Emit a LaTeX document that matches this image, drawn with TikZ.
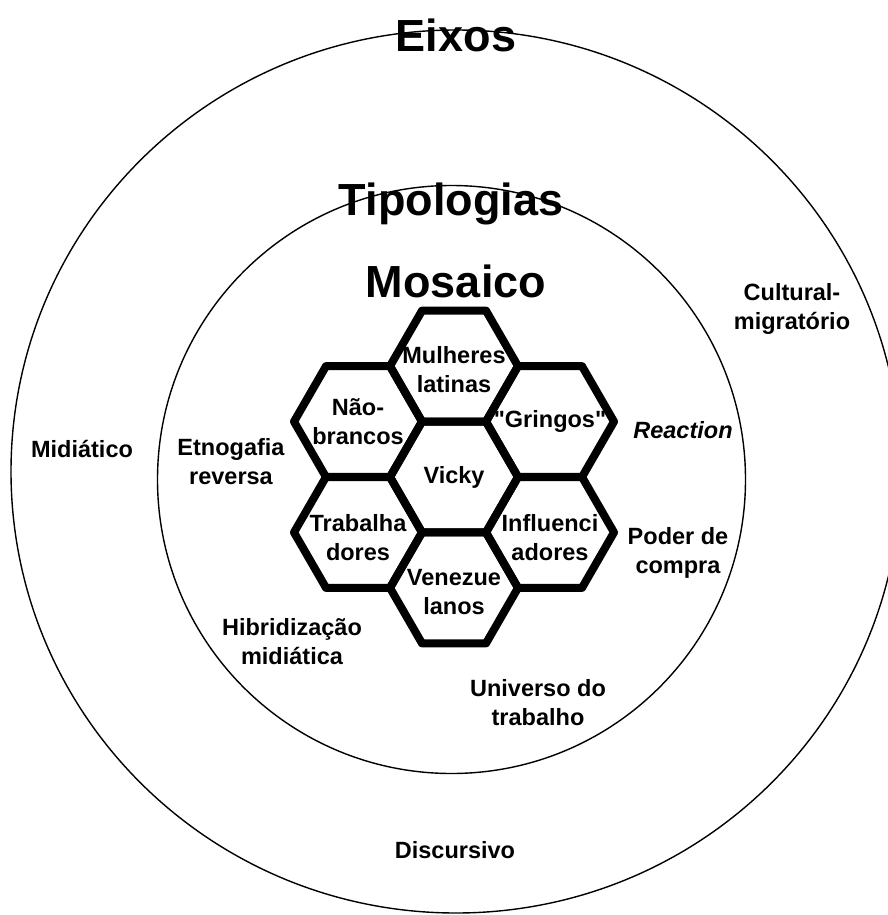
\documentclass[tikz,border=0pt]{standalone}
\usepackage{fontspec}
\setmainfont{Liberation Sans}[Ligatures=TeXOff]
\usepackage{tikz}
\usetikzlibrary{shapes.geometric,positioning}

\begin{document}
\begin{tikzpicture}[
    x=1pt,y=-1pt,
    ring/.style={draw,line width=1.4pt},
    titulo/.style={font=\fontsize{45}{50}\selectfont\bfseries,anchor=base,inner sep=0pt},
    rotulo/.style={font=\fontsize{23.5}{29}\selectfont\bfseries,align=center,inner sep=0pt},
    hexa/.style={regular polygon,regular polygon sides=6,minimum size=128pt,
      inner sep=0pt,outer sep=0pt,draw,line width=8pt,line join=round},
    celula/.style={rotulo}
  ]
    \useasboundingbox (0,0) rectangle (888,915);
    % aneis
    \draw[ring] (456,471.5) ellipse [x radius=445pt,y radius=441.5pt];
    \draw[ring] (451.5,479.5) circle [radius=294pt];
    \node[titulo] (eixos) at (456,52) {Eixos};
    \node[titulo] (tipologias) at (451,215) {Tipologias};
    \node[titulo] (mosaico) at (456,297) {Mosaico};
    % eixos
    \node[rotulo] (cultural) at (792,309) {Cultural-\\migratório};
    \node[rotulo] (midiatico) at (82,449) {Midiático};
    \node[rotulo] (discursivo) at (455,850) {Discursivo};
    % tipologias
    \node[rotulo] (etnografia) at (231,462) {Etnogafia\\reversa};
    \node[rotulo] (reaction) at (683,430) {\itshape Reaction};
    \node[rotulo] (poder) at (678,553) {Poder de\\compra};
    \node[rotulo] (hibridizacao) at (292,642) {Hibridização\\midiática};
    \node[rotulo] (universo) at (538,703) {Universo do\\trabalho};
    % mosaico
    \node[hexa,label={[celula]center:Vicky}] (vicky) at (454,477) {};
    \node[hexa,label={[celula,yshift=-3pt]center:{Mulheres\\latinas}}] (mulheres) at (454,366.1) {};
    \node[hexa,label={[celula,yshift=-4pt]center:{Venezue\\lanos}}] (venezuelanos) at (454,587.9) {};
    \node[hexa,label={[celula]center:{Não-\\brancos}}] (naobrancos) at (358,421.6) {};
    \node[hexa,label={[celula,yshift=-5pt]center:{Trabalha\\dores}}] (trabalhadores) at (358,532.4) {};
    \node[hexa,label={[celula]center:{"Gringos"}}] (gringos) at (550,421.6) {};
    \node[hexa,label={[celula,yshift=-5pt]center:{Influenci\\adores}}] (influenciadores) at (550,532.4) {};
  \end{tikzpicture}
\end{document}
